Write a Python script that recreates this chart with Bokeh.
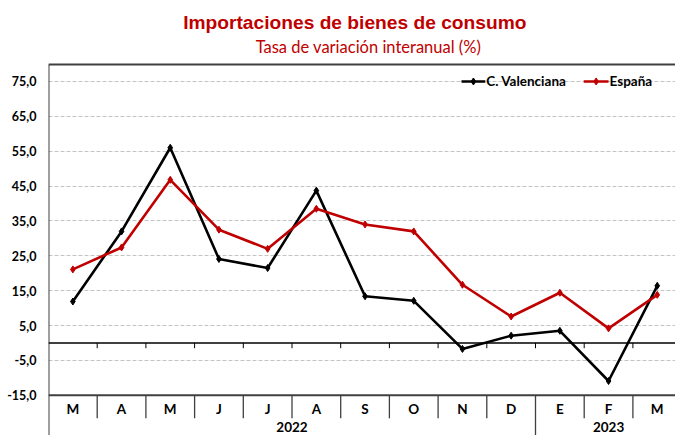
from bokeh.plotting import figure
from bokeh.models import FixedTicker, CustomJSTickFormatter
from bokeh.core.properties import value
from bokeh.embed import file_html
from bokeh.resources import INLINE

months = ["M", "A", "M", "J", "J", "A", "S", "O", "N", "D", "E", "F", "M"]
years = ["2022", "2023"]
year_spans = [(0, 10), (10, 13)]
valenciana = [11.9, 32.0, 56.0, 24.1, 21.5, 43.7, 13.4, 12.1, -1.7, 2.1, 3.5, -10.9, 16.4]
espana = [21.1, 27.4, 46.8, 32.5, 27.0, 38.5, 34.0, 32.0, 16.7, 7.6, 14.4, 4.2, 13.8]
y_ticks = [-15, -5, 5, 15, 25, 35, 45, 55, 65, 75]

RED = "#C00000"
FRAME = "#404040"
LAB_FONT = value("Lato")
LAB_SIZE = "13.5px"

W = 675
H = 435
LEFT = 48
x_end = (W - LEFT) / 48.7
y_hi = 98.22
y_lo = y_hi - H / 3.487

p = figure(width=W, height=H, output_backend="svg", toolbar_location=None,
           x_range=(0, x_end), y_range=(y_lo, y_hi),
           min_border_left=LEFT, min_border_right=0, min_border_top=0, min_border_bottom=0)
p.outline_line_color = None
p.xaxis.visible = False
p.xgrid.visible = False
p.yaxis.ticker = FixedTicker(ticks=y_ticks)
p.yaxis.formatter = CustomJSTickFormatter(code="return tick.toFixed(1).replace('.', ',');")
p.yaxis.axis_line_color = None
p.yaxis.major_tick_line_color = None
p.yaxis.minor_tick_line_color = None
p.yaxis.major_tick_in = 0
p.yaxis.major_tick_out = 0
p.yaxis.major_label_standoff = 12
p.yaxis.major_label_text_font = "Lato"
p.yaxis.major_label_text_font_style = "bold"
p.yaxis.major_label_text_font_size = "12.5px"
p.yaxis.major_label_text_color = "#000000"
p.ygrid.ticker = FixedTicker(ticks=y_ticks)
p.ygrid.grid_line_color = "#c4c4c4"
p.ygrid.grid_line_dash = "4 2"
p.ygrid.grid_line_width = 1

top = 79.87
bottom = -15
# frame
p.segment(x0=[0, 0, 0], y0=[top, bottom, top], x1=[x_end, x_end, 0], y1=[top, bottom, y_lo],
          line_color=FRAME, line_width=2)
# zero axis
p.segment(x0=[0], y0=[0], x1=[x_end], y1=[0], line_color="#000000", line_width=1.3)
bounds = list(range(1, 13))
p.segment(x0=bounds, y0=[0] * 12, x1=bounds, y1=[-1.5] * 12, line_color="#000000", line_width=1)
# category separators below
sep_bottom = [y_lo if b == 10 else -21.6 for b in bounds]
p.segment(x0=bounds, y0=[bottom] * 12, x1=bounds, y1=sep_bottom, line_color=FRAME, line_width=1.3)

centers = [i + 0.5 for i in range(len(months))]
p.text(x=centers, y=[-18.8] * len(months), text=months, text_align="center", text_baseline="middle",
       text_font=LAB_FONT, text_font_style="bold", text_font_size=LAB_SIZE, text_color="#000000")
p.text(x=[(a + b) / 2 for a, b in year_spans], y=[-24.2] * 2, text=years, text_align="center",
       text_baseline="middle", text_font=LAB_FONT, text_font_style="bold", text_font_size=LAB_SIZE,
       text_color="#000000")

# series
p.line(centers, valenciana, line_color="#000000", line_width=2.6)
p.scatter(centers, valenciana, marker="diamond", size=7, fill_color="#000000", line_color="#000000")
p.line(centers, espana, line_color=RED, line_width=2.6)
p.scatter(centers, espana, marker="diamond", size=7, fill_color=RED, line_color=RED)

# legend
leg_y = 75
p.line([8.48, 8.97], [leg_y, leg_y], line_color="#000000", line_width=2.6)
p.scatter([8.725], [leg_y], marker="diamond", size=7, fill_color="#000000", line_color="#000000")
p.line([10.99, 11.5], [leg_y, leg_y], line_color=RED, line_width=2.6)
p.scatter([11.245], [leg_y], marker="diamond", size=7, fill_color=RED, line_color=RED)
p.text(x=[8.99, 11.52], y=[leg_y, leg_y], text=["C. Valenciana", "España"], text_align="left",
       text_baseline="middle", text_font=LAB_FONT, text_font_style="bold", text_font_size=LAB_SIZE,
       text_color="#000000")

# titles
p.text(x=[6.29], y=[91.9], text=["Importaciones de bienes de consumo"], text_align="center",
       text_baseline="middle", text_font=value("Liberation Sans"), text_font_style="bold",
       text_font_size="19.2px", text_color=RED)
p.text(x=[6.57], y=[85.0], text=["Tasa de variación interanual (%)"], text_align="center",
       text_baseline="middle", text_font=LAB_FONT, text_font_size="16.5px", text_color=RED)

open("out.html", "w").write(file_html(p, INLINE))
